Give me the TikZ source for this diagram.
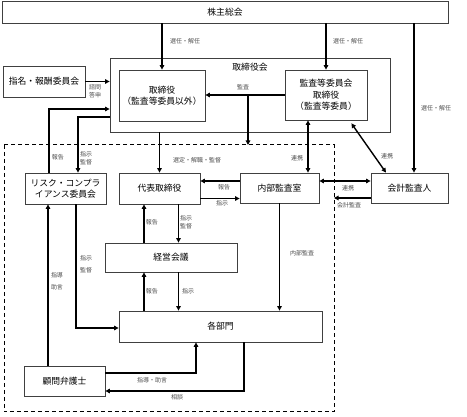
\documentclass[tikz,border=0pt]{standalone}
\usepackage{fontspec}
\setmainfont{Noto Sans CJK JP}
\usetikzlibrary{arrows.meta}
\begin{document}
\begin{tikzpicture}[
  x=1pt, y=-1pt,
  box/.style = {draw=black!75, line width=0.8pt, minimum width=#1,
    inner sep=1pt, align=center, font=\fontsize{8.8}{11}\selectfont},
  box/.default = 80pt,
  arr/.style = {line width=1.4pt, -{Triangle[length=4.5pt,width=4.5pt]}},
  both/.style = {line width=1.4pt, {Triangle[length=4.5pt,width=4.5pt]}-{Triangle[length=4.5pt,width=4.5pt]}},
  lab/.style = {font=\fontsize{6}{8}\selectfont, text=black!70, inner sep=0pt, align=center},
]
  \useasboundingbox (0,0) rectangle (467,417);
  % shareholders and board
  \node[box=446pt, minimum height=22pt] (kabu) at (225,12) {株主総会};
  \node[box=280pt, minimum height=74pt] (torikai) at (250,95) {};
  \node[font=\fontsize{8.8}{11}\selectfont] (torilab) at (250,67) {取締役会};
  \node[box=86pt, minimum height=51pt] (tori) at (162,95.5) {取締役\\（監査等委員以外）};
  \node[box=82pt, minimum height=50pt] (kansa) at (326,95) {監査等委員会\\[1pt]取締役\\（監査等委員）};
  \node[box=82pt, minimum height=31pt] (shimei) at (44,81.5) {指名・報酬委員会};
  % execution side
  \node[box=81pt, minimum height=31pt] (risk) at (65.5,188.5) {リスク・コンプラ\\イアンス委員会};
  \node[box=81pt, minimum height=31pt] (daihyo) at (159.5,188.5) {代表取締役};
  \node[box=79pt, minimum height=30pt] (naibu) at (279.5,188) {内部監査室};
  \node[box=77pt, minimum height=30pt] (kaikei) at (409.5,188) {会計監査人};
  \node[box=132pt, minimum height=29pt] (keiei) at (171,257.5) {経営会議};
  \node[box=203pt, minimum height=31pt] (kakubu) at (220.5,326.5) {各部門};
  \node[box=81pt, minimum height=30pt] (komon) at (64.5,381) {顧問弁護士};
  % dashed frame and helper columns
  \coordinate (dnw) at (4,145);
  \coordinate (dse) at (334,412);
  \draw[line width=1pt, dash pattern=on 4pt off 3pt] (dnw) rectangle (dse);
  \coordinate (kbr) at (248,95);
  \coordinate (ca) at (144,0);
  \coordinate (cb) at (178.5,0);
  \coordinate (cc) at (414,0);

  \draw[arr] (kabu.south -| tori.north) -- (tori.north);
  \node[lab] (l1) at (185,41) {選任・解任};
  \draw[arr] (kabu.south -| kansa.north) -- (kansa.north);
  \node[lab] (l2) at (348,41) {選任・解任};
  \draw[arr] (kabu.south -| cc) -- (kaikei.north -| cc);
  \node[lab] (l3) at (436,108) {選任・解任};
  \draw[arr] (shimei.east) -- (shimei.east -| torikai.west);
  \node[lab] (l4) at (95,91.5) {諮問\\答申};
  \draw[arr] (kansa.west) -- (kansa.west -| tori.east);
  \node[lab] (l5) at (243,87) {監査};
  \draw[arr] (kbr) -- (kbr |- dnw);
  \draw[arr] (torikai.south -| daihyo.north) -- (daihyo.north);
  \node[lab] (l6) at (197,160) {選定・解職・監督};
  % risk committee
  \draw[arr] ([xshift=-16.5pt]risk.north) |- ([yshift=-14pt]torikai.west);
  \node[lab] (l7) at (58,157) {報告};
  \draw[arr] ([yshift=-22pt]torikai.west) -| ([xshift=12.5pt]risk.north);
  \node[lab] (l8) at (86,158) {指示\\監督};
  \draw[arr] ([xshift=10.5pt]risk.south) |- ([yshift=-1.5pt]kakubu.west);
  \node[lab] (l9) at (86,264) {指示\\[4pt]監督};
  \draw[arr] ([xshift=-16.5pt]komon.north) -- ([xshift=-16.5pt]komon.north |- risk.south);
  \node[lab] (l10) at (57,281) {指導\\[4pt]助言};
  \draw[arr] ([yshift=8pt]komon.east) -| ([xshift=-24.5pt]kakubu.south);
  \node[lab] (l11) at (152,380) {指導・助言};
  \draw[arr] ([xshift=23.5pt]kakubu.south) |- ([yshift=-10pt]komon.east);
  \node[lab] (l12) at (177,397.5) {相談};
  % management line
  \draw[arr] (keiei.north -| ca) -- (daihyo.south -| ca);
  \node[lab] (l13) at (152,222) {報告};
  \draw[arr] (daihyo.south -| cb) -- (keiei.north -| cb);
  \node[lab] (l14) at (186,222) {指示\\監督};
  \draw[arr] (kakubu.north -| ca) -- (keiei.south -| ca);
  \node[lab] (l15) at (152,291) {報告};
  \draw[arr] (keiei.south -| cb) -- (kakubu.north -| cb);
  \node[lab] (l16) at (188,291) {指示};
  % audit links
  \draw[arr] ([yshift=7pt]naibu.west) -- ([yshift=7pt]naibu.west -| daihyo.east);
  \node[lab] (l17) at (224,187.5) {報告};
  \draw[arr] ([yshift=-10pt]daihyo.east) -- ([yshift=-10pt]daihyo.east -| naibu.west);
  \node[lab] (l18) at (222,203.5) {指示};
  \draw[both] ([xshift=-18pt]kansa.south) -- ([xshift=-18pt]kansa.south |- naibu.north);
  \node[lab] (l19) at (297,158) {連携};
  \draw[both] ([xshift=-16pt,yshift=-3pt]kansa.south east) -- ([xshift=-23.5pt]kaikei.north);
  \node[lab] (l20) at (387,156) {連携};
  \draw[both] ([yshift=7pt]naibu.east) -- ([yshift=7pt]kaikei.west);
  \node[lab] (l21) at (348,188) {連携};
  \draw[arr] ([yshift=-10pt]kaikei.west) -- ([yshift=-10pt]kaikei.west -| dse);
  \node[lab] (l22) at (349,205) {会計監査};
  \draw[arr] (naibu.south) -- (naibu.south |- kakubu.north);
  \node[lab] (l23) at (302,253.5) {内部監査};
\end{tikzpicture}
\end{document}
